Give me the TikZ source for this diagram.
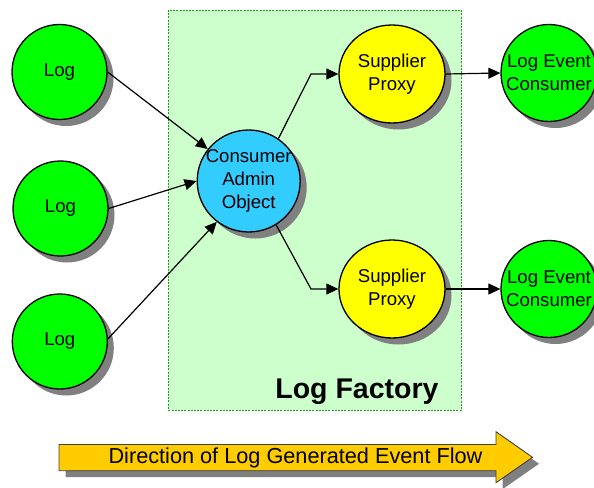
\documentclass[tikz,border=0pt]{standalone}
\usepackage{fontspec}
\setmainfont{Liberation Sans}
\usetikzlibrary{shapes.geometric,shadows,arrows.meta}
\definecolor{loggreen}{RGB}{0,255,0}
\definecolor{caoblue}{RGB}{51,204,255}
\definecolor{spyellow}{RGB}{255,255,0}
\definecolor{factbg}{RGB}{204,255,204}
\definecolor{factborder}{RGB}{30,160,30}
\definecolor{flowor}{RGB}{255,204,0}
\definecolor{shadowgray}{RGB}{128,128,128}
\begin{document}
\begin{tikzpicture}[x=1pt,y=-1pt,
  every node/.style={font=\fontsize{18.6}{23}\selectfont},
  bubble/.style={ellipse, draw=black, line width=1.3pt, inner sep=-20pt, align=center,
    drop shadow={shadow xshift=6.5pt, shadow yshift=-6.5pt, fill=shadowgray, opacity=1, draw=none}},
  lognode/.style={bubble, fill=loggreen, minimum width=95pt, minimum height=95pt},
  caonode/.style={bubble, fill=caoblue, minimum width=103pt, minimum height=102pt},
  spnode/.style={bubble, fill=spyellow, minimum width=106pt, minimum height=98pt},
  lecnode/.style={bubble, fill=loggreen, minimum width=96pt, minimum height=97pt},
  flowline/.style={line width=1.2pt, -{Triangle[length=12pt,width=11pt]}},
  factbox/.style={draw=factborder, fill=factbg, line width=0.8pt, dash pattern=on 2pt off 1.2pt, inner sep=0pt, minimum width=293pt, minimum height=400pt, anchor=north west}
]
\useasboundingbox (0,0) rectangle (594,487);
\node[factbox] (factory) at (168,10) {};
\node[anchor=base east, font=\bfseries\fontsize{28.5}{32}\selectfont] (factlabel) at (442,398) {Log Factory};

\node[lognode] (log1) at (59.5,72) {Log};
\node[lognode] (log2) at (60.5,208.5) {Log};
\node[lognode] (log3) at (59.8,341.5) {Log};
\node[caonode] (cao) at (248.7,181) {Consumer\\Admin\\Object};
\node[spnode] (spt) at (392,74) {Supplier\\Proxy};
\node[spnode] (spb) at (392,289) {Supplier\\Proxy};
\node[lecnode] (lect) at (549,73) {Log Event\\Consumer};
\node[lecnode] (lecb) at (549,289) {Log Event\\Consumer};

\coordinate (ct) at (311,74);
\coordinate (cb) at (311,289);

\draw[flowline] (log1.0) -- (cao.142);
\draw[flowline] (log2.0) -- (cao.180);
\draw[flowline] (log3.3) -- (cao.232);
\draw[flowline] (cao.55) -- (ct) -- (spt.west);
\draw[flowline] (cao.-58) -- (cb) -- (spb.west);
\draw[flowline] (spt.east) -- (lect.west);
\draw[flowline] (spb.east) -- (lecb.west);

\fill[shadowgray, shift={(6.5pt,-6.5pt)}] (59,444.5) -- (496,444.5) -- (496,431.7) -- (532.5,457.3) -- (496,482.7) -- (496,470.7) -- (59,470.7) -- cycle;
\filldraw[fill=flowor, draw=black!75, line width=0.9pt] (59,444.5) -- (496,444.5) -- (496,431.7) -- (532.5,457.3) -- (496,482.7) -- (496,470.7) -- (59,470.7) -- cycle;
\node[anchor=base, font=\fontsize{21.7}{25}\selectfont] (flowtext) at (295.5,463.5) {Direction of Log Generated Event Flow};
\end{tikzpicture}
\end{document}
